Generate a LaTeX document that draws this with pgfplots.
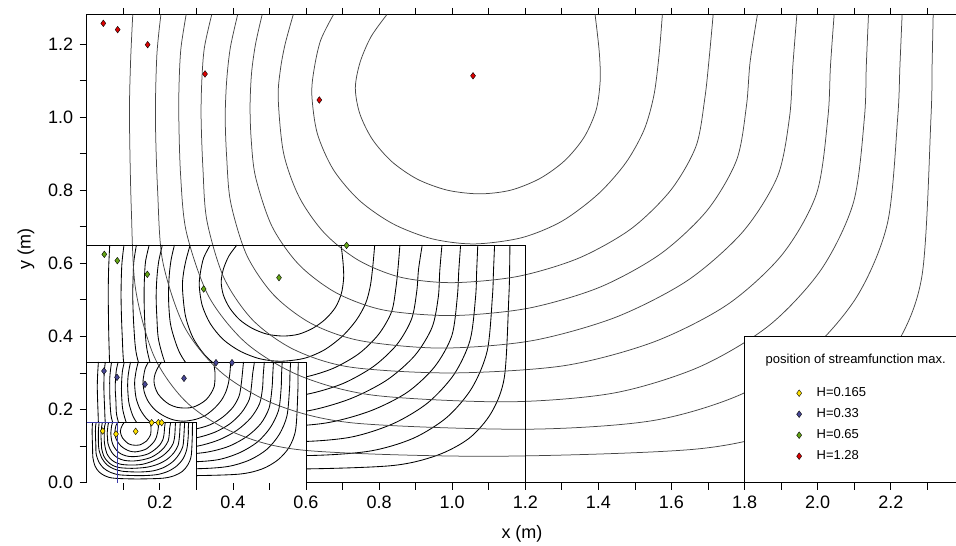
\documentclass[border=0pt]{standalone}
\usepackage{fontspec}
\setmainfont{Liberation Sans}
\usepackage{pgfplots}
\pgfplotsset{compat=1.18}
\definecolor{myyellow}{RGB}{255,225,0}
\definecolor{myblue}{RGB}{72,72,150}
\definecolor{mygreen}{RGB}{100,165,20}
\definecolor{myred}{RGB}{220,0,0}
\definecolor{boxblue}{RGB}{60,60,170}
\definecolor{cgray}{RGB}{70,70,70}
\pgfplotsset{
  cbig/.style={no marks, smooth, forget plot, color=cgray, line width=0.75pt},
  csm/.style={no marks, smooth, forget plot, color=black, line width=0.85pt},
  mk/.style={only marks, mark=diamond*, mark size=3.3pt, mark options={draw=black, line width=0.4pt, fill=#1}},
}
\begin{document}
\begin{tikzpicture}
\useasboundingbox (-86.7pt,-63.4pt) rectangle (869.3pt,482.6pt);
\begin{axis}[
  at={(0,0)}, anchor=south west,
  scale only axis, width=870.6pt, height=467.84pt,
  xmin=0, xmax=2.382, ymin=0, ymax=1.28,
  axis line style={line width=1.3pt},
  xtick={0.2,0.4,0.6,0.8,1.0,1.2,1.4,1.6,1.8,2.0,2.2},
  minor xtick={0.1,0.3,0.5,0.7,0.9,1.1,1.3,1.5,1.7,1.9,2.1,2.3},
  ytick={0,0.2,0.4,0.6,0.8,1.0,1.2},
  minor ytick={0.1,0.3,0.5,0.7,0.9,1.1},
  tick align=outside, major tick length=7pt, minor tick length=7pt,
  xtick pos=both, xticklabel pos=bottom, ytick pos=left,
  tick style={black, line width=0.7pt},
  /pgf/number format/fixed, /pgf/number format/fixed zerofill,
  /pgf/number format/precision=1, /pgf/number format/assume math mode=true,
  ticklabel style={font=\fontsize{18}{20}\selectfont},
  xticklabel style={yshift=-3pt},
  yticklabel style={xshift=-3pt},
  xlabel={x (m)}, ylabel={y (m)},
  label style={font=\fontsize{18}{20}\selectfont},
  xlabel style={yshift=-10pt},
  ylabel style={yshift=7pt},
  legend style={at={(axis cs:1.942,0.263)}, anchor=north west, draw=none, fill=none,
    inner sep=0pt, row sep=8pt, column sep=14pt,
    font=\fontsize{13}{15}\selectfont,
    nodes={inner sep=1pt, text height=9pt, text depth=2pt}},
  legend cell align=left,
]
% ---------------- H = 0.65 set ----------------
\addplot[csm] coordinates {(0.063,0.65) (0.06,0.584) (0.059,0.508) (0.061,0.381) (0.067,0.268) (0.093,0.175) (0.137,0.112) (0.203,0.069) (0.3,0.045) (0.55,0.037) (0.83,0.046) (0.957,0.074) (1.046,0.121) (1.107,0.191) (1.143,0.29) (1.155,0.508) (1.157,0.579) (1.158,0.65)};
\addplot[csm] coordinates {(0.102,0.65) (0.096,0.594) (0.094,0.508) (0.097,0.406) (0.104,0.307) (0.134,0.216) (0.185,0.152) (0.26,0.108) (0.366,0.083) (0.6,0.074) (0.773,0.086) (0.893,0.121) (0.986,0.179) (1.054,0.259) (1.096,0.361) (1.11,0.508) (1.113,0.579) (1.116,0.65)};
\addplot[csm] coordinates {(0.136,0.65) (0.129,0.605) (0.127,0.559) (0.126,0.508) (0.129,0.427) (0.137,0.347) (0.167,0.259) (0.219,0.194) (0.292,0.148) (0.393,0.121) (0.575,0.112) (0.721,0.124) (0.838,0.161) (0.933,0.218) (1.005,0.296) (1.049,0.39) (1.064,0.508) (1.067,0.579) (1.07,0.65)};
\addplot[csm] coordinates {(0.171,0.65) (0.161,0.605) (0.158,0.559) (0.157,0.508) (0.159,0.437) (0.165,0.364) (0.188,0.284) (0.228,0.226) (0.284,0.185) (0.361,0.161) (0.5,0.152) (0.654,0.163) (0.776,0.196) (0.877,0.247) (0.952,0.317) (0.999,0.402) (1.014,0.508) (1.018,0.579) (1.023,0.65)};
\addplot[csm] coordinates {(0.207,0.65) (0.197,0.605) (0.192,0.559) (0.19,0.508) (0.192,0.452) (0.197,0.389) (0.219,0.316) (0.256,0.261) (0.308,0.221) (0.375,0.197) (0.485,0.187) (0.609,0.197) (0.723,0.23) (0.822,0.281) (0.898,0.348) (0.945,0.425) (0.962,0.508) (0.966,0.579) (0.972,0.65)};
\addplot[csm] coordinates {(0.24,0.65) (0.231,0.61) (0.226,0.569) (0.224,0.523) (0.225,0.478) (0.231,0.425) (0.254,0.356) (0.291,0.303) (0.342,0.264) (0.407,0.24) (0.5,0.232) (0.604,0.242) (0.701,0.271) (0.785,0.318) (0.849,0.378) (0.889,0.448) (0.903,0.523) (0.908,0.584) (0.918,0.65)};
\addplot[csm] coordinates {(0.283,0.65) (0.272,0.61) (0.265,0.574) (0.262,0.533) (0.27,0.457) (0.291,0.396) (0.326,0.346) (0.372,0.309) (0.429,0.285) (0.5,0.278) (0.59,0.287) (0.673,0.312) (0.745,0.353) (0.799,0.406) (0.834,0.467) (0.846,0.533) (0.852,0.589) (0.857,0.65)};
\addplot[csm] coordinates {(0.338,0.65) (0.32,0.615) (0.311,0.574) (0.308,0.538) (0.316,0.485) (0.338,0.435) (0.373,0.392) (0.419,0.36) (0.473,0.339) (0.53,0.332) (0.595,0.34) (0.65,0.363) (0.7,0.401) (0.738,0.445) (0.763,0.49) (0.776,0.538) (0.783,0.594) (0.788,0.65)};
\addplot[csm] coordinates {(0.411,0.65) (0.389,0.62) (0.374,0.584) (0.368,0.549) (0.374,0.513) (0.391,0.478) (0.418,0.446) (0.453,0.422) (0.494,0.406) (0.538,0.401) (0.58,0.406) (0.62,0.423) (0.654,0.448) (0.681,0.48) (0.697,0.518) (0.703,0.559) (0.702,0.594) (0.699,0.625) (0.696,0.65)};
\fill[white] (axis cs:0,0) rectangle (axis cs:0.6,0.33);
% ---------------- H = 0.33 set ----------------
\addplot[csm] coordinates {(0.032,0.33) (0.03,0.297) (0.029,0.258) (0.031,0.194) (0.034,0.136) (0.046,0.089) (0.068,0.057) (0.101,0.035) (0.15,0.023) (0.275,0.019) (0.415,0.023) (0.479,0.037) (0.523,0.062) (0.554,0.097) (0.572,0.147) (0.578,0.258) (0.578,0.294) (0.579,0.33)};
\addplot[csm] coordinates {(0.051,0.33) (0.048,0.302) (0.047,0.258) (0.049,0.206) (0.052,0.156) (0.067,0.11) (0.093,0.077) (0.13,0.055) (0.183,0.042) (0.3,0.038) (0.386,0.044) (0.446,0.062) (0.493,0.091) (0.527,0.132) (0.548,0.183) (0.555,0.258) (0.556,0.294) (0.558,0.33)};
\addplot[csm] coordinates {(0.068,0.33) (0.065,0.307) (0.063,0.284) (0.063,0.258) (0.064,0.217) (0.068,0.176) (0.084,0.131) (0.109,0.098) (0.146,0.075) (0.196,0.062) (0.288,0.057) (0.361,0.063) (0.419,0.082) (0.467,0.111) (0.502,0.15) (0.525,0.198) (0.532,0.258) (0.533,0.294) (0.535,0.33)};
\addplot[csm] coordinates {(0.086,0.33) (0.081,0.307) (0.079,0.284) (0.078,0.258) (0.08,0.222) (0.082,0.185) (0.094,0.144) (0.114,0.115) (0.142,0.094) (0.18,0.082) (0.25,0.077) (0.327,0.083) (0.388,0.099) (0.438,0.126) (0.476,0.161) (0.499,0.204) (0.507,0.258) (0.509,0.294) (0.511,0.33)};
\addplot[csm] coordinates {(0.103,0.33) (0.098,0.307) (0.096,0.284) (0.095,0.258) (0.096,0.23) (0.099,0.198) (0.11,0.16) (0.128,0.132) (0.154,0.112) (0.188,0.1) (0.243,0.095) (0.304,0.1) (0.362,0.117) (0.411,0.143) (0.449,0.177) (0.473,0.216) (0.481,0.258) (0.483,0.294) (0.486,0.33)};
\addplot[csm] coordinates {(0.12,0.33) (0.116,0.31) (0.113,0.289) (0.112,0.266) (0.113,0.243) (0.116,0.216) (0.127,0.181) (0.145,0.154) (0.171,0.134) (0.203,0.122) (0.25,0.118) (0.302,0.123) (0.351,0.138) (0.392,0.161) (0.424,0.192) (0.445,0.228) (0.451,0.266) (0.454,0.297) (0.459,0.33)};
\addplot[csm] coordinates {(0.141,0.33) (0.136,0.31) (0.133,0.292) (0.131,0.271) (0.135,0.232) (0.146,0.201) (0.163,0.176) (0.186,0.157) (0.215,0.145) (0.25,0.141) (0.295,0.146) (0.337,0.158) (0.372,0.179) (0.4,0.206) (0.417,0.237) (0.423,0.271) (0.426,0.299) (0.429,0.33)};
\addplot[csm] coordinates {(0.169,0.33) (0.16,0.312) (0.156,0.292) (0.154,0.273) (0.158,0.246) (0.169,0.221) (0.187,0.199) (0.21,0.183) (0.236,0.172) (0.265,0.168) (0.298,0.173) (0.325,0.184) (0.35,0.204) (0.369,0.226) (0.381,0.249) (0.388,0.273) (0.392,0.302) (0.394,0.33)};
\addplot[csm] coordinates {(0.205,0.33) (0.195,0.315) (0.187,0.297) (0.184,0.279) (0.187,0.261) (0.195,0.243) (0.209,0.227) (0.226,0.214) (0.247,0.206) (0.269,0.204) (0.29,0.206) (0.31,0.215) (0.327,0.227) (0.34,0.244) (0.349,0.263) (0.351,0.284) (0.351,0.302) (0.349,0.317) (0.348,0.33)};
% ---------------- H = 1.28 set ----------------
\addplot[cbig] coordinates {(0.126,1.28) (0.12,1.15) (0.117,1.0) (0.122,0.75) (0.134,0.528) (0.185,0.344) (0.273,0.22) (0.405,0.136) (0.60,0.088) (1.1,0.072) (1.66,0.091) (1.914,0.145) (2.092,0.239) (2.214,0.375) (2.286,0.57) (2.31,1.0) (2.313,1.14) (2.316,1.28)};
\addplot[cbig] coordinates {(0.203,1.28) (0.192,1.17) (0.188,1.0) (0.194,0.8) (0.208,0.605) (0.268,0.425) (0.37,0.30) (0.519,0.213) (0.731,0.163) (1.2,0.146) (1.545,0.169) (1.785,0.239) (1.972,0.353) (2.108,0.51) (2.191,0.71) (2.219,1.0) (2.225,1.14) (2.231,1.28)};
\addplot[cbig] coordinates {(0.272,1.28) (0.258,1.19) (0.253,1.1) (0.252,1.0) (0.257,0.84) (0.273,0.684) (0.334,0.509) (0.437,0.381) (0.584,0.292) (0.785,0.239) (1.15,0.221) (1.442,0.245) (1.675,0.316) (1.866,0.429) (2.009,0.582) (2.098,0.767) (2.128,1.0) (2.133,1.14) (2.139,1.28)};
\addplot[cbig] coordinates {(0.342,1.28) (0.322,1.19) (0.315,1.1) (0.313,1.0) (0.318,0.86) (0.329,0.716) (0.376,0.559) (0.455,0.444) (0.567,0.364) (0.721,0.316) (1.0,0.30) (1.307,0.32) (1.552,0.385) (1.753,0.487) (1.903,0.624) (1.997,0.791) (2.028,1.0) (2.035,1.14) (2.045,1.28)};
\addplot[cbig] coordinates {(0.413,1.28) (0.393,1.19) (0.383,1.1) (0.379,1.0) (0.383,0.89) (0.394,0.766) (0.438,0.622) (0.512,0.513) (0.615,0.435) (0.75,0.388) (0.97,0.368) (1.217,0.388) (1.4465,0.452) (1.644,0.553) (1.795,0.686) (1.89,0.8375) (1.923,1.0) (1.932,1.14) (1.943,1.28)};
\addplot[cbig] coordinates {(0.48,1.28) (0.462,1.2) (0.451,1.12) (0.447,1.03) (0.45,0.94) (0.462,0.836) (0.507,0.701) (0.581,0.596) (0.683,0.519) (0.813,0.472) (1.0,0.457) (1.208,0.477) (1.4025,0.534) (1.569,0.625) (1.697,0.744) (1.778,0.882) (1.805,1.03) (1.815,1.15) (1.835,1.28)};
\addplot[cbig] coordinates {(0.565,1.28) (0.543,1.2) (0.53,1.13) (0.524,1.05) (0.539,0.90) (0.582,0.78) (0.651,0.682) (0.744,0.608) (0.858,0.562) (1.0,0.547) (1.179,0.564) (1.346,0.614) (1.489,0.694) (1.598,0.80) (1.667,0.92) (1.691,1.05) (1.703,1.16) (1.714,1.28)};
\addplot[cbig] coordinates {(0.675,1.28) (0.64,1.21) (0.622,1.13) (0.616,1.06) (0.631,0.955) (0.675,0.856) (0.746,0.772) (0.838,0.708) (0.945,0.667) (1.06,0.653) (1.19,0.67) (1.30,0.715) (1.40,0.79) (1.475,0.875) (1.525,0.965) (1.552,1.06) (1.566,1.17) (1.575,1.28)};
\addplot[cbig] coordinates {(0.821,1.28) (0.778,1.22) (0.748,1.15) (0.735,1.08) (0.747,1.01) (0.781,0.94) (0.835,0.878) (0.905,0.83) (0.987,0.80) (1.075,0.79) (1.16,0.80) (1.24,0.832) (1.308,0.881) (1.361,0.945) (1.394,1.02) (1.405,1.10) (1.403,1.17) (1.397,1.23) (1.391,1.28)};
\fill[white] (axis cs:0,0) rectangle (axis cs:0.3,0.165);
% ---------------- H = 0.165 set ----------------
\addplot[csm] coordinates {(0.016,0.165) (0.015,0.149) (0.015,0.129) (0.016,0.097) (0.017,0.068) (0.023,0.045) (0.034,0.029) (0.051,0.018) (0.075,0.012) (0.138,0.01) (0.208,0.012) (0.24,0.019) (0.262,0.031) (0.277,0.049) (0.286,0.074) (0.289,0.129) (0.289,0.147) (0.29,0.165)};
\addplot[csm] coordinates {(0.026,0.165) (0.024,0.151) (0.024,0.129) (0.025,0.103) (0.026,0.078) (0.034,0.055) (0.047,0.039) (0.065,0.028) (0.092,0.021) (0.15,0.019) (0.193,0.022) (0.223,0.031) (0.247,0.046) (0.264,0.066) (0.274,0.092) (0.278,0.129) (0.278,0.147) (0.279,0.165)};
\addplot[csm] coordinates {(0.034,0.165) (0.033,0.154) (0.032,0.142) (0.032,0.129) (0.032,0.109) (0.034,0.088) (0.042,0.066) (0.055,0.049) (0.073,0.038) (0.098,0.031) (0.144,0.029) (0.181,0.032) (0.21,0.041) (0.234,0.056) (0.251,0.075) (0.263,0.099) (0.266,0.129) (0.267,0.147) (0.268,0.165)};
\addplot[csm] coordinates {(0.043,0.165) (0.041,0.154) (0.04,0.142) (0.039,0.129) (0.04,0.111) (0.041,0.093) (0.047,0.072) (0.057,0.058) (0.071,0.047) (0.09,0.041) (0.125,0.039) (0.164,0.042) (0.194,0.05) (0.219,0.063) (0.238,0.081) (0.25,0.102) (0.254,0.129) (0.255,0.147) (0.256,0.165)};
\addplot[csm] coordinates {(0.052,0.165) (0.049,0.154) (0.048,0.142) (0.048,0.129) (0.048,0.115) (0.05,0.099) (0.055,0.08) (0.064,0.066) (0.077,0.056) (0.094,0.05) (0.122,0.048) (0.152,0.05) (0.181,0.059) (0.206,0.072) (0.225,0.089) (0.237,0.108) (0.241,0.129) (0.242,0.147) (0.243,0.165)};
\addplot[csm] coordinates {(0.06,0.165) (0.058,0.155) (0.057,0.145) (0.056,0.133) (0.057,0.122) (0.058,0.108) (0.064,0.091) (0.073,0.077) (0.086,0.067) (0.102,0.061) (0.125,0.059) (0.151,0.062) (0.176,0.069) (0.196,0.081) (0.212,0.096) (0.223,0.114) (0.226,0.133) (0.227,0.149) (0.23,0.165)};
\addplot[csm] coordinates {(0.071,0.165) (0.068,0.155) (0.067,0.146) (0.066,0.136) (0.068,0.116) (0.073,0.101) (0.082,0.088) (0.093,0.079) (0.108,0.073) (0.125,0.071) (0.148,0.073) (0.169,0.079) (0.186,0.09) (0.2,0.103) (0.209,0.119) (0.212,0.136) (0.213,0.15) (0.215,0.165)};
\addplot[csm] coordinates {(0.085,0.165) (0.08,0.156) (0.078,0.146) (0.077,0.137) (0.079,0.123) (0.085,0.111) (0.094,0.1) (0.105,0.092) (0.118,0.086) (0.133,0.084) (0.149,0.087) (0.163,0.092) (0.175,0.102) (0.185,0.113) (0.191,0.125) (0.194,0.137) (0.196,0.151) (0.197,0.165)};
\addplot[csm] coordinates {(0.103,0.165) (0.098,0.158) (0.094,0.149) (0.092,0.14) (0.094,0.131) (0.098,0.122) (0.105,0.114) (0.113,0.107) (0.124,0.103) (0.135,0.102) (0.145,0.103) (0.155,0.108) (0.164,0.114) (0.17,0.122) (0.175,0.132) (0.176,0.142) (0.176,0.151) (0.175,0.159) (0.174,0.165)};
% ---------------- box frames ----------------
\draw[black, line width=0.9pt] (axis cs:0,0.65) -- (axis cs:1.2,0.65) -- (axis cs:1.2,0);
\draw[black, line width=0.9pt] (axis cs:0,0.33) -- (axis cs:0.6,0.33) -- (axis cs:0.6,0);
\draw[black, line width=0.9pt] (axis cs:0,0.165) -- (axis cs:0.3,0.165) -- (axis cs:0.3,0);
\draw[boxblue, line width=0.6pt] (axis cs:0,0.165) -- (axis cs:0.085,0.165) -- (axis cs:0.085,0);
% ---------------- legend box ----------------
\draw[black, line width=0.9pt, fill=white] (axis cs:1.8,0) rectangle (axis cs:2.6,0.399);
\node[font=\fontsize{13}{15}\selectfont] at (axis cs:2.104,0.335) {position of streamfunction max.};
% ---------------- maxima ----------------
\addplot[mk=myyellow] coordinates {(0.0437,0.1412) (0.0802,0.133) (0.134,0.1403) (0.1778,0.164) (0.196,0.164) (0.2052,0.164)};
\addlegendentry{H=0.165}
\addplot[mk=myblue] coordinates {(0.0473,0.3053) (0.0829,0.288) (0.1595,0.2689) (0.2662,0.2853) (0.3538,0.3281) (0.3975,0.3281)};
\addlegendentry{H=0.33}
\addplot[mk=mygreen] coordinates {(0.0482,0.6245) (0.0838,0.6072) (0.1659,0.5698) (0.32,0.5297) (0.5261,0.5607) (0.711,0.649)};
\addlegendentry{H=0.65}
\addplot[mk=myred] coordinates {(0.0455,1.2565) (0.0847,1.2393) (0.1668,1.198) (0.3237,1.118) (0.6365,1.0468) (1.057,1.113)};
\addlegendentry{H=1.28}
\end{axis}
\end{tikzpicture}
\end{document}
